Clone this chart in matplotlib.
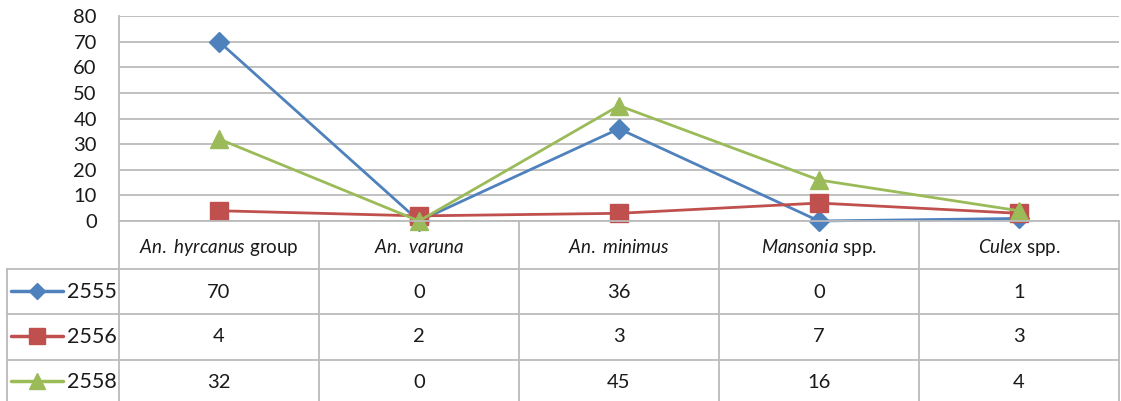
import matplotlib
matplotlib.use("Agg")
import matplotlib.pyplot as plt
from matplotlib.lines import Line2D
from matplotlib.transforms import blended_transform_factory

# Mosquito counts by species and survey year
species_italic = ["An. hyrcanus", "An. varuna", "An. minimus", "Mansonia", "Culex"]
species_suffix = [" group", "", "", " spp.", " spp."]
years = ["2555", "2556", "2558"]
counts_2555 = [70, 0, 36, 0, 1]
counts_2556 = [4, 2, 3, 7, 3]
counts_2558 = [32, 0, 45, 16, 4]
y_ticks = [0, 10, 20, 30, 40, 50, 60, 70, 80]

series = [counts_2555, counts_2556, counts_2558]
colors = ["#4F81BD", "#C0504D", "#9BBB59"]
markers = ["D", "s", "^"]
msizes = [10.5, 13.5, 12.5]
legend_msizes = [8, 11.5, 11]

plt.rcParams["font.family"] = ["Lato", "DejaVu Sans"]
plt.rcParams["mathtext.fontset"] = "custom"
plt.rcParams["mathtext.rm"] = "Lato"
plt.rcParams["mathtext.it"] = "Lato:italic"

W, H = 1121, 401
fig = plt.figure(figsize=(W / 100, H / 100), dpi=100)


def fx(px):
    return px / W


def fy(py):
    return 1 - py / H


grid_c = "#BBBBBB"
text_c = "#1a1a1a"

ax = fig.add_axes([fx(119), fy(221), fx(1119) - fx(119), fy(16) - fy(221)])
ax.set_xlim(0, 5)
ax.set_ylim(0, 80)
ax.set_yticks(y_ticks)
ax.set_xticks([])
ax.tick_params(axis="y", length=0, pad=16, labelsize=14.5, labelcolor=text_c)
ax.grid(axis="y", color=grid_c, lw=1.3)
ax.set_axisbelow(True)
for s in ["top", "right", "bottom"]:
    ax.spines[s].set_visible(False)
ax.spines["left"].set_color(grid_c)
ax.spines["left"].set_linewidth(1.3)

xs = [i + 0.5 for i in range(len(species_italic))]
for vals, c, m, ms in zip(series, colors, markers, msizes):
    ax.plot(xs, vals, color=c, lw=2.0, marker=m, markersize=ms,
            markerfacecolor=c, markeredgecolor=c, clip_on=False, zorder=3)

# Data table beneath the axis
tr = blended_transform_factory(ax.transData, fig.transFigure)
row_lines = [221, 269, 314, 360]
for i, py in enumerate(row_lines):
    x0 = 119 if i == 0 else 6.5
    fig.add_artist(Line2D([fx(x0), fx(1119)], [fy(py), fy(py)],
                          transform=fig.transFigure, color=grid_c, lw=1.3))
for k in range(len(species_italic) + 1):
    fig.add_artist(Line2D([k, k], [fy(221), 0], transform=tr,
                          color=grid_c, lw=1.3))
fig.add_artist(Line2D([fx(6.5), fx(6.5)], [fy(269), 0],
                      transform=fig.transFigure, color=grid_c, lw=1.3))

for x, it, suf in zip(xs, species_italic, species_suffix):
    label = r"$\mathit{" + it.replace(" ", r"\ ") + "}$" + suf
    fig.text(x, fy(247), label, transform=tr, ha="center", va="center",
             fontsize=13.5, color=text_c)

row_centers = [292, 337, 382]
for vals, yc in zip(series, row_centers):
    for x, v in zip(xs, vals):
        fig.text(x, fy(yc), str(v), transform=tr, ha="center", va="center",
                 fontsize=14.5, color=text_c)

for name, c, m, ms, yc in zip(years, colors, markers, legend_msizes, row_centers):
    yy = fy(yc - 1)
    fig.add_artist(Line2D([fx(11), fx(63)], [yy, yy], transform=fig.transFigure,
                          color=c, lw=2.5, solid_capstyle="round"))
    fig.add_artist(Line2D([fx(37)], [yy], transform=fig.transFigure,
                          color=c, marker=m, markersize=ms,
                          markerfacecolor=c, markeredgecolor=c, lw=0))
    fig.text(fx(67), fy(yc), name, ha="left", va="center",
             fontsize=15.5, color=text_c)

fig.savefig("out.png", dpi=100)
